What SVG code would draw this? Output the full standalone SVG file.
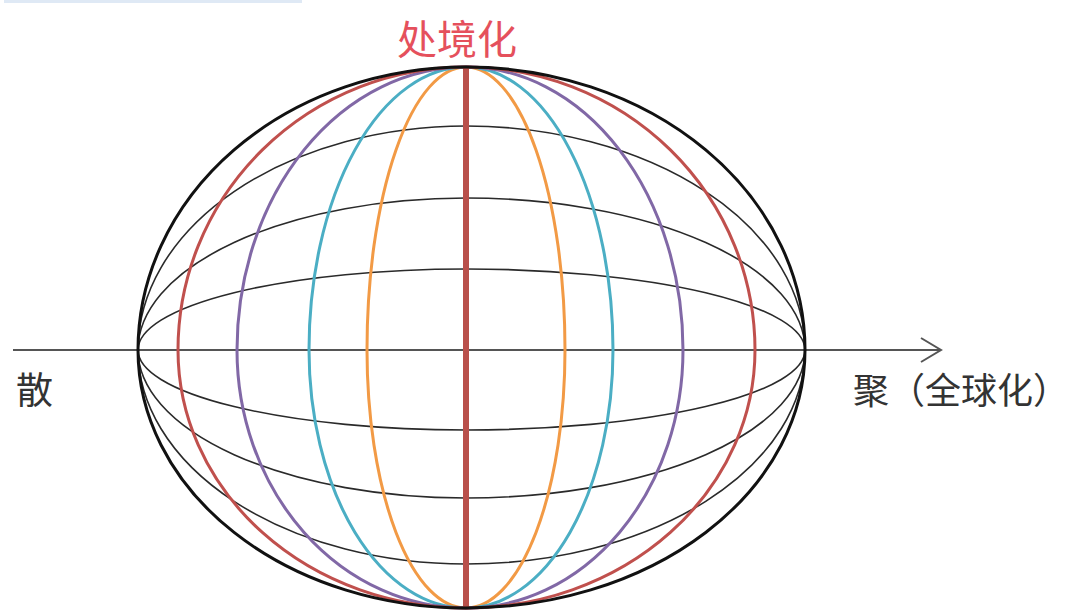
<svg xmlns="http://www.w3.org/2000/svg" width="1071" height="611" viewBox="0 0 1071 611">
<style>
.lat{fill:none;stroke:#2a2a2a;stroke-width:1.6}
.mer{fill:none;stroke-width:3}
.lbl{font-family:"Liberation Sans","Noto Sans CJK SC",sans-serif;fill:#333}
</style>
<defs>
<marker id="arr" markerWidth="24" markerHeight="28" refX="21" refY="13" orient="auto" markerUnits="userSpaceOnUse">
<path d="M1 1 L21 13 L1 25" fill="none" stroke="#555" stroke-width="2"/>
</marker>
</defs>
<rect x="4" y="0" width="298" height="3" fill="#dfe9f5"/>
<g id="latitudes">
<path class="lat" d="M138 350 A328 224 0 0 1 466 126 A339 224 0 0 1 805 350"/>
<path class="lat" d="M138 350 A328 152 0 0 1 466 198 A339 152 0 0 1 805 350"/>
<path class="lat" d="M138 350 A328 81 0 0 1 466 269 A339 81 0 0 1 805 350"/>
<path class="lat" d="M138 350 A328 80 0 0 0 466 430 A339 80 0 0 0 805 350"/>
<path class="lat" d="M138 350 A328 148 0 0 0 466 498 A339 148 0 0 0 805 350"/>
<path class="lat" d="M138 350 A328 214 0 0 0 466 564 A339 214 0 0 0 805 350"/>
</g>
<g id="connectors">
<line x1="13" y1="350" x2="941" y2="350" stroke="#555" stroke-width="2" marker-end="url(#arr)"/>
</g>
<g id="meridians">
<path class="mer" stroke="#F29A45" d="M466 67 A99 283 0 0 0 367 350 A99 258 0 0 0 466 608 M466 67 A99 283 0 0 1 565 350 A99 258 0 0 1 466 608"/>
<path class="mer" stroke="#4BAEC4" d="M466 67 A157 283 0 0 0 309 350 A157 258 0 0 0 466 608 M466 67 A147 283 0 0 1 613 350 A147 258 0 0 1 466 608"/>
<path class="mer" stroke="#8168A6" d="M466 67 A229 283 0 0 0 237 350 A229 258 0 0 0 466 608 M466 67 A217 283 0 0 1 683 350 A217 258 0 0 1 466 608"/>
<path class="mer" stroke="#C0504D" d="M466 67 A288 283 0 0 0 178 350 A288 258 0 0 0 466 608 M466 67 A289 283 0 0 1 755 350 A289 258 0 0 1 466 608"/>
</g>
<g id="center">
<line x1="466" y1="67" x2="466" y2="608" stroke="#B9504B" stroke-width="6"/>
</g>
<g id="outline">
<path fill="none" stroke="#111" stroke-width="3" d="M466 67 A328 283 0 0 0 138 350 A328 258 0 0 0 466 608 A339 258 0 0 0 805 350 A339 283 0 0 0 466 67 Z"/>
</g>
<g id="label-top">
<text x="457" y="54" font-size="40" text-anchor="middle" font-family="Liberation Sans,Noto Sans CJK SC,sans-serif" fill="#E5505C">处境化</text>
</g>
<g id="label-left">
<text class="lbl" x="16" y="404" font-size="37">散</text>
</g>
<g id="label-right">
<text class="lbl" x="853" y="404" font-size="36">聚（全球化）</text>
</g>
</svg>
